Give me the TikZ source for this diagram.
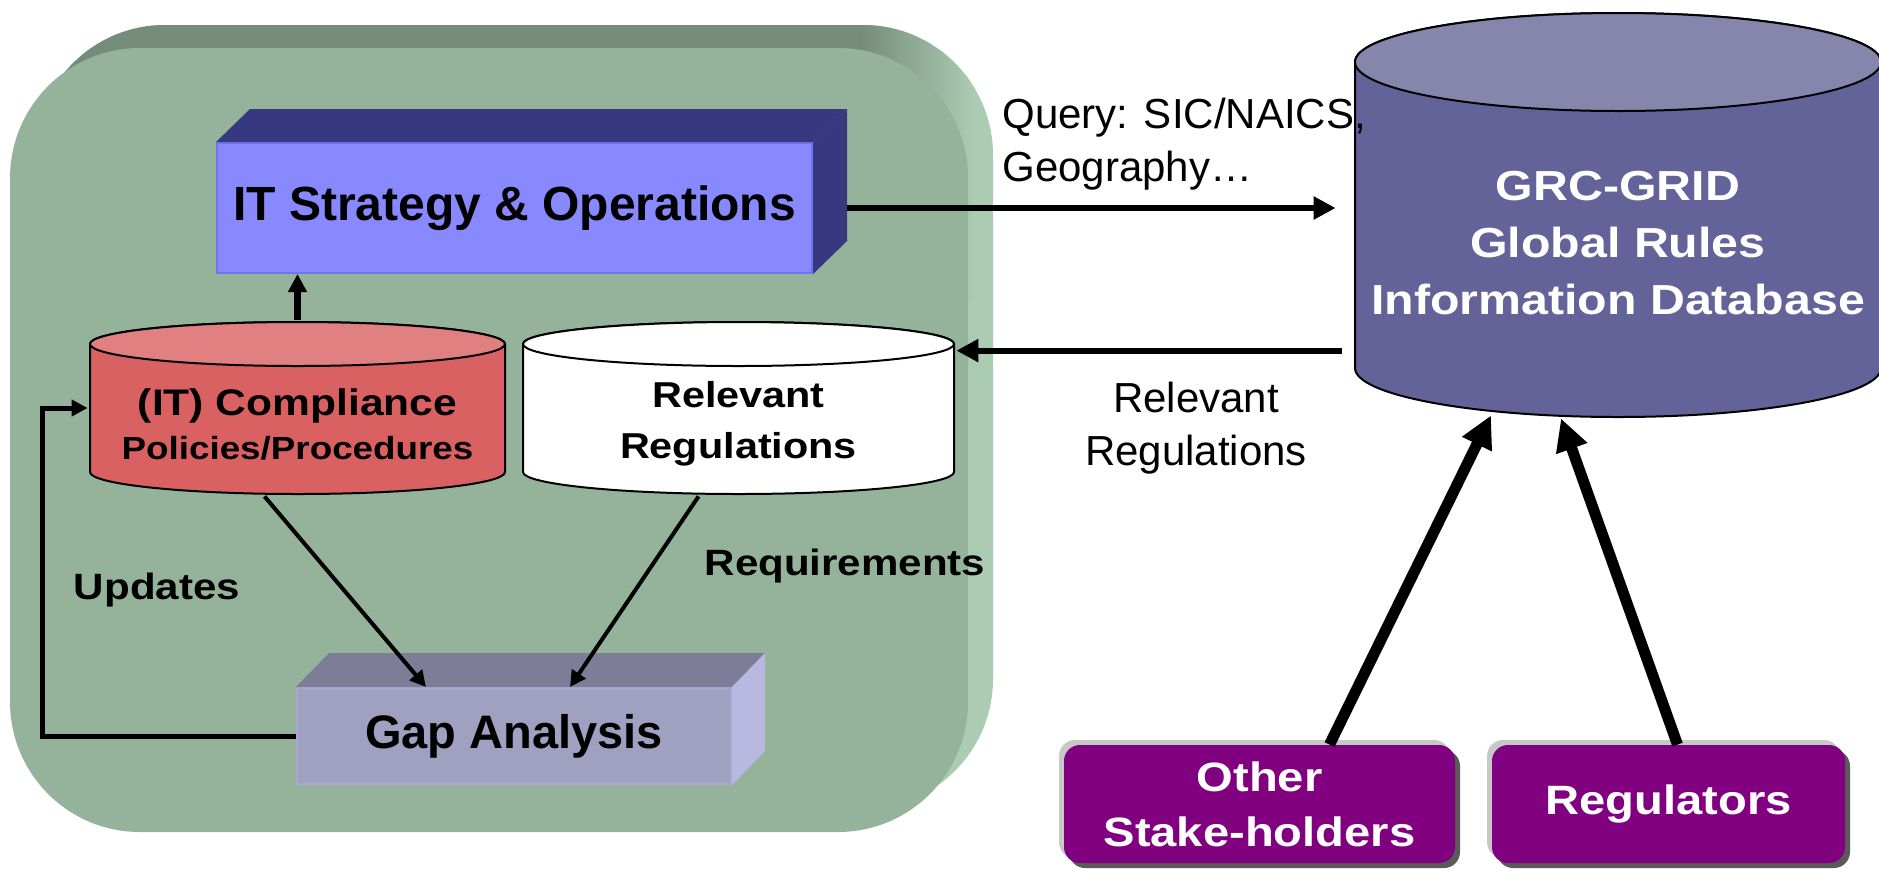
\documentclass[tikz,border=0pt]{standalone}
\usepackage{fontspec}
\setmainfont{Liberation Sans}
\newfontfamily\widefont[FakeStretch=1.15]{Liberation Sans}
\usetikzlibrary{arrows.meta,calc,shadows}

\definecolor{panel}{HTML}{95B39B}
\definecolor{paneltop}{HTML}{758C7A}
\definecolor{panelside}{HTML}{ABCCB3}
\definecolor{itfront}{HTML}{8888FF}
\definecolor{itedge}{HTML}{7272F5}
\definecolor{itdark}{HTML}{383880}
\definecolor{compbody}{HTML}{D96161}
\definecolor{comptop}{HTML}{E08080}
\definecolor{gapfront}{HTML}{A0A0C0}
\definecolor{gapedge}{HTML}{A8A8D4}
\definecolor{gaptop}{HTML}{7D7D98}
\definecolor{gapside}{HTML}{B8B8E0}
\definecolor{dbbody}{HTML}{636399}
\definecolor{dbtop}{HTML}{8686AD}
\definecolor{grcpurple}{HTML}{800080}
\definecolor{shadelight}{HTML}{C8C8C8}
\definecolor{shadedark}{HTML}{5A5A5A}

\begin{document}
\begin{tikzpicture}[x=0.5pt, y=-0.5pt,
	itbox/.style={fill=itfront, draw=itedge, line width=1pt, minimum width=297.5pt, minimum height=65pt,
		font=\bfseries\fontsize{24}{28}\selectfont},
	gapbox/.style={fill=gapfront, draw=gapedge, line width=1pt, minimum width=217pt, minimum height=48pt,
		font=\bfseries\fontsize{23.5}{28}\selectfont},
	cyl/.style n args={3}{inner sep=0pt, path picture={
		\filldraw[fill=#1, line width=1pt]
			let \p1=(path picture bounding box.north west), \p2=(path picture bounding box.south east) in
			(\x1+1pt,\y1-1pt-#3) -- (\x1+1pt,\y2+1pt+#3)
			arc[start angle=180, end angle=360, x radius={(\x2-\x1)/2-1pt}, y radius=#3]
			-- (\x2-1pt,\y1-1pt-#3)
			arc[start angle=0, end angle=180, x radius={(\x2-\x1)/2-1pt}, y radius=#3] -- cycle;
		\filldraw[fill=#2, line width=1pt]
			let \p1=(path picture bounding box.north west), \p2=(path picture bounding box.south east) in
			({(\x1+\x2)/2},\y1-1pt-#3) ellipse[x radius={(\x2-\x1)/2-1pt}, y radius=#3];
	}},
	cyltext/.style={align=center, inner sep=0pt},
	stake/.style={rounded corners=8pt, fill=grcpurple, text=white, minimum height=59pt, align=center,
		font=\widefont\bfseries\fontsize{20.5}{27.5}\selectfont,
		drop shadow={shadow xshift=-2.5pt, shadow yshift=2.5pt, fill=shadelight, opacity=1},
		drop shadow={shadow xshift=2.5pt, shadow yshift=-2.5pt, fill=shadedark, opacity=1}},
	lbl/.style={align=center, inner sep=0pt, font=\fontsize{21}{26.5}\selectfont},
	boldlbl/.style={inner sep=0pt, font=\widefont\bfseries\fontsize{18.3}{22}\selectfont},
	link/.style={line width=2pt, -{Triangle[length=8pt, width=8pt]}},
	biglink/.style={line width=3pt, -{Triangle[length=11pt, width=11pt]}},
	thicklink/.style={line width=5.5pt, -{Triangle[length=16pt, width=15.5pt]}}]

\useasboundingbox (0,0) rectangle (1879,869);

% green panel with its raised edge
\begin{scope}
	\clip[rounded corners=65pt] (35,25) rectangle (993,809);
	\fill[panelside] (0,0) rectangle (1000,869);
	\fill[paneltop] (0,0) rectangle (860,300);
	\shade[left color=paneltop, right color=panelside] (860,0) rectangle (975,300);
\end{scope}
\fill[panel, rounded corners=65pt] (10,48) rectangle (968,832);

% boxes
\node[itbox] (it) at (514.5,208) {IT Strategy \& Operations};
\fill[itdark] (it.north west) -- ++(34,-33) -- ($(it.north east)+(34,-33)$) -- (it.north east) -- cycle;
\fill[itdark] (it.north east) -- ++(34,-33) -- ($(it.south east)+(34,-33)$) -- (it.south east) -- cycle;

\node[gapbox] (gap) at (514,736) {Gap Analysis};
\fill[gaptop] (gap.north west) -- ++(33,-34) -- ($(gap.north east)+(33,-34)$) -- (gap.north east) -- cycle;
\fill[gapside] (gap.north east) -- ++(33,-34) -- ($(gap.south east)+(33,-34)$) -- (gap.south east) -- cycle;

% cylinders
\node[cyl={compbody}{comptop}{11pt}, minimum width=209.5pt, minimum height=88pt] (comp) at (297.5,408) {};
\node[cyl={white}{white}{11pt}, minimum width=217.5pt, minimum height=88pt] (regs) at (738.5,408) {};
\node[cyl={dbbody}{dbtop}{24.5pt}, minimum width=265pt, minimum height=204pt] (db) at (1618,215) {};

\node[cyltext, font=\widefont\bfseries\fontsize{16}{22}\selectfont] (comptxt) at (297.5,424)
	{{\fontsize{18.5}{22}\selectfont (IT) Compliance}\\Policies/Procedures};
\node[cyltext, font=\widefont\bfseries\fontsize{18}{25.5}\selectfont] (regstxt) at (738.5,424)
	{Relevant\\Regulations};
\node[cyltext, text=white, font=\widefont\bfseries\fontsize{21}{28.5}\selectfont] (dbtxt) at (1618,243)
	{GRC-GRID\\Global Rules\\Information Database};

% sources of rules
\node[stake, minimum width=195.5pt] (other) at (1259.5,804) {Other\\Stake-holders};
\node[stake, minimum width=176.5pt] (regul) at (1668.5,804) {Regulators};

% labels
\node[lbl, anchor=west, align=left] (query) at (1002,144) {Query: SIC/NAICS,\\Geography…};
\node[lbl] (rellbl) at (1196,428) {Relevant\\Regulations};
\node[boldlbl] (reqlbl) at (845,566) {Requirements};
\node[boldlbl] (updlbl) at (157,590) {Updates};

% connectors
\draw[link, line width=3.5pt, -{Triangle[length=9pt, width=9pt]}] (comp.north) -- (comp.north |- it.south);
\draw[link] ($(comp.south)+(-33,0)$) -- ($(gap.north)+(-88,0)$);
\draw[link] ($(regs.south)+(-40,0)$) -- ($(gap.north)+(56,0)$);
\draw[link, line width=2.5pt] (gap.west) -- ++(-254,0) |- (comp.west);
\draw[biglink] ($(it.east)+(34,0)$) -- ($(db.west |- it.east)+(-17,0)$);
\coordinate (regin) at ($(regs.north east)+(0,31)$);
\draw[biglink] ($(db.west |- regin)+(-11,0)$) -- (regin);
\draw[thicklink] ($(other.north)+(70,0)$) -- ($(db.south)+(-127,-4)$);
\draw[thicklink] ($(regul.north)+(9,0)$) -- ($(db.south)+(-57,-1)$);
\end{tikzpicture}
\end{document}
